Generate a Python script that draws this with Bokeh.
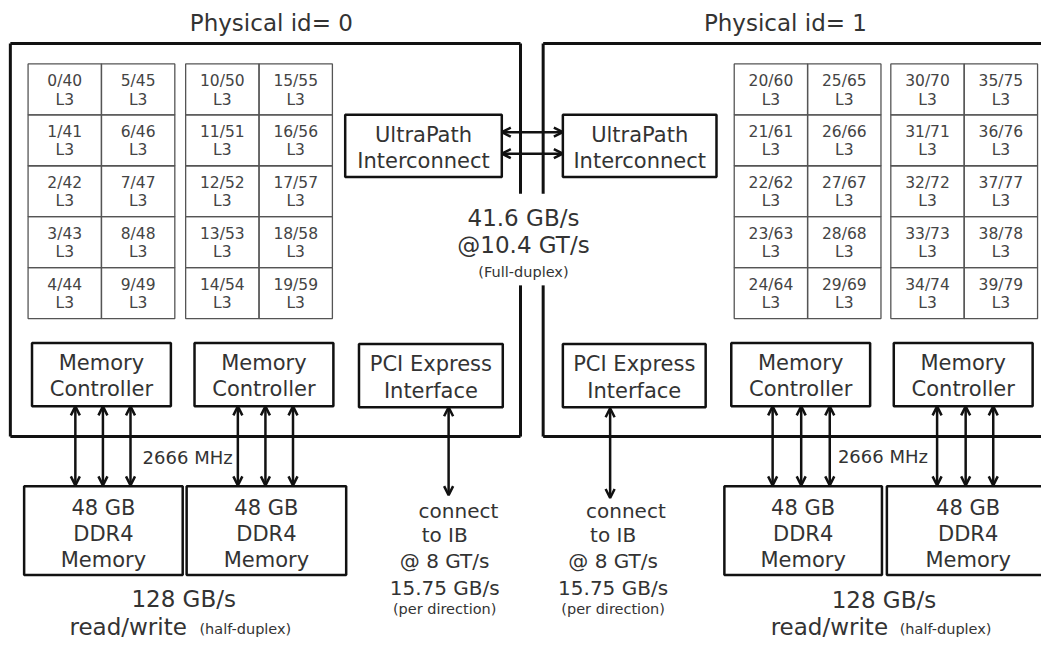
from bokeh.plotting import figure
from bokeh.models import Range1d, Arrow, OpenHead, ColumnDataSource
from bokeh.embed import file_html
from bokeh.resources import INLINE
from bokeh.core.properties import value

# ---------------- text content of the diagram ----------------
socket_titles = ["Physical id= 0", "Physical id= 1"]
core_columns = [
    ["0/40", "1/41", "2/42", "3/43", "4/44"],
    ["5/45", "6/46", "7/47", "8/48", "9/49"],
    ["10/50", "11/51", "12/52", "13/53", "14/54"],
    ["15/55", "16/56", "17/57", "18/58", "19/59"],
    ["20/60", "21/61", "22/62", "23/63", "24/64"],
    ["25/65", "26/66", "27/67", "28/68", "29/69"],
    ["30/70", "31/71", "32/72", "33/73", "34/74"],
    ["35/75", "36/76", "37/77", "38/78", "39/79"],
]
cache_label = "L3"
upi_label = ["UltraPath", "Interconnect"]
upi_bandwidth = ["41.6 GB/s", "@10.4 GT/s", "(Full-duplex)"]
mc_label = ["Memory", "Controller"]
pcie_label = ["PCI Express", "Interface"]
dimm_label = ["48 GB", "DDR4", "Memory"]
mem_clock = "2666 MHz"
mem_bandwidth = ["128 GB/s", "read/write", "(half-duplex)"]
ib_label = ["connect", "to IB", "@ 8 GT/s", "15.75 GB/s", "(per direction)"]

# ---------------- styles ----------------
FONT = value("DejaVu Sans")
TXT = "#333333"
INK = "#111111"
CELL = "#555555"

p = figure(width=1041, height=639, x_range=Range1d(0, 1057), y_range=Range1d(655, 0),
           x_axis_location=None, y_axis_location=None, output_backend="svg",
           toolbar_location=None, min_border=0)
p.outline_line_color = None
p.background_fill_color = "white"
p.border_fill_color = "white"
p.grid.visible = False

texts = {}


def t(x, y, s, size, align="center", color=TXT):
    d = texts.setdefault((size, align, color), dict(x=[], y=[], text=[]))
    d["x"].append(x)
    d["y"].append(y)
    d["text"].append(s)


boxes = dict(l=[], r=[], t=[], b=[])


def box(l, tp, r, b):
    boxes["l"].append(l); boxes["r"].append(r); boxes["t"].append(tp); boxes["b"].append(b)


# ---------------- titles ----------------
t(275, 23, socket_titles[0], "23px")
t(797, 23, socket_titles[1], "23px")

# ---------------- socket outlines ----------------
outer_x = [[10, 528], [10, 10], [10, 528], [528, 528], [528, 528],
           [551, 1100], [551, 551], [551, 1100], [551, 551]]
outer_y = [[44, 44], [44, 447], [447, 447], [44, 198], [292, 447],
           [44, 44], [44, 198], [447, 447], [292, 447]]
p.multi_line(outer_x, outer_y, line_color=INK, line_width=3)

# ---------------- core grids ----------------
grid_left = [28, 188, 745, 904]
cw, rh, top0 = 74.5, 52.2, 65
cl, cr, ct, cb = [], [], [], []
for gi, gx in enumerate(grid_left):
    for c in range(2):
        col = core_columns[gi * 2 + c]
        for r in range(5):
            l = gx + c * cw
            tp = top0 + r * rh
            cl.append(l); cr.append(l + cw); ct.append(tp); cb.append(tp + rh)
            t(l + cw / 2, tp + 18, col[r], "15.5px", color="#444444")
            t(l + cw / 2, tp + 36.5, cache_label, "15.5px", color="#444444")
p.quad(left=cl, right=cr, top=ct, bottom=cb, fill_color=None, line_color=CELL, line_width=1.3)

# ---------------- UltraPath boxes ----------------
for (l, r) in [(350, 509), (571, 727)]:
    box(l, 117, r, 181)
    t((l + r) / 2, 138, upi_label[0], "21px")
    t((l + r) / 2, 165, upi_label[1], "21px")

t(531, 223, upi_bandwidth[0], "23px")
t(531, 251, upi_bandwidth[1], "23px")
t(531, 278, upi_bandwidth[2], "14.5px")

# ---------------- memory controllers ----------------
for (l, r) in [(32, 173), (197, 338), (742, 883), (907, 1048)]:
    box(l, 351, r, 416)
    t((l + r) / 2, 372, mc_label[0], "21px")
    t((l + r) / 2, 398, mc_label[1], "21px")

# ---------------- PCIe interfaces ----------------
for (l, r) in [(364, 510), (571, 716)]:
    box(l, 352, r, 417)
    t((l + r) / 2, 373, pcie_label[0], "21px")
    t((l + r) / 2, 400, pcie_label[1], "21px")

# ---------------- DIMMs ----------------
for (l, r) in [(24, 185), (189, 351), (735, 895), (900, 1065)]:
    box(l, 498, r, 589)
    t((l + r) / 2, 520, dimm_label[0], "21px")
    t((l + r) / 2, 547, dimm_label[1], "21px")
    t((l + r) / 2, 573, dimm_label[2], "21px")

p.quad(left=boxes["l"], right=boxes["r"], top=boxes["t"], bottom=boxes["b"],
       fill_color=None, line_color=INK, line_width=2.5)

# memory clock / bandwidth
t(190, 468, mem_clock, "18px")
t(896, 467, mem_clock, "18px")
t(186, 613, mem_bandwidth[0], "23px")
t(897, 615, mem_bandwidth[0], "23px")
t(70, 642, mem_bandwidth[1], "23px", align="left")
t(782, 642, mem_bandwidth[1], "23px", align="left")
t(202, 644, mem_bandwidth[2], "14.5px", align="left")
t(913, 644, mem_bandwidth[2], "14.5px", align="left")

# InfiniBand text
for cx_c, cx in [(465, 451), (635, 622)]:
    t(cx_c, 523, ib_label[0], "20px")
    t(cx, 548, ib_label[1], "20px")
    t(cx, 575, ib_label[2], "20px")
    t(cx, 602, ib_label[3], "20px")
    t(cx, 624, ib_label[4], "14.5px")

# ---------------- arrows ----------------
ax0, ay0, ax1, ay1 = [], [], [], []
for y in [135, 157]:
    ax0.append(509); ay0.append(y); ax1.append(571); ay1.append(y)
for x in [76, 104, 132, 241, 269, 297, 784, 813, 842, 951, 980, 1008]:
    ax0.append(x); ay0.append(416); ax1.append(x); ay1.append(497)
ax0 += [455, 619]; ay0 += [417, 418]; ax1 += [455, 619]; ay1 += [507, 510]
asrc = ColumnDataSource(dict(x0=ax0, y0=ay0, x1=ax1, y1=ay1))
p.add_layout(Arrow(x_start="x0", y_start="y0", x_end="x1", y_end="y1", source=asrc,
                   line_color=INK, line_width=2.5,
                   start=OpenHead(size=9, line_width=2.5, line_color=INK),
                   end=OpenHead(size=9, line_width=2.5, line_color=INK)))

# ---------------- render texts ----------------
for (size, align, color), d in texts.items():
    p.text(x="x", y="y", text="text", source=ColumnDataSource(d), text_font=FONT,
           text_font_size=value(size), text_align=align, text_baseline="middle",
           text_color=color)

open("out.html", "w").write(file_html(p, INLINE))
